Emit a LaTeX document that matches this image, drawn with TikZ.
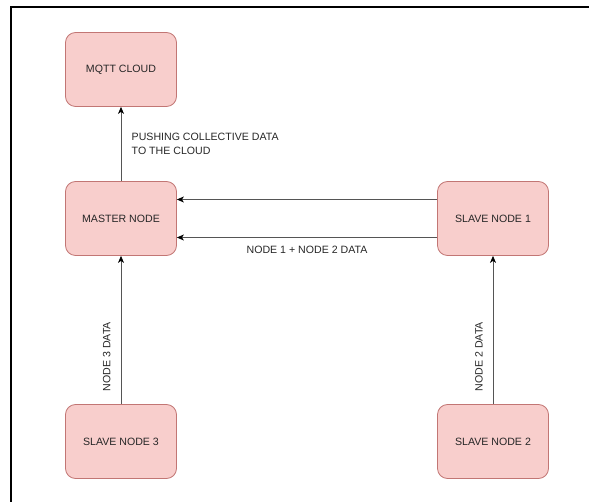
\documentclass[tikz,border=0pt]{standalone}
\usepackage{fontspec}
\setmainfont{Liberation Sans}
\usetikzlibrary{arrows.meta}
\definecolor{boxfill}{HTML}{F8CECC}
\definecolor{boxdraw}{HTML}{C27674}
\definecolor{txt}{HTML}{262626}
\definecolor{linec}{HTML}{555555}
\tikzset{
  box/.style={draw=boxdraw, fill=boxfill, rounded corners=10pt, minimum width=111pt,
    minimum height=74pt, inner sep=0pt, font=\fontsize{10.6}{13}\selectfont, text=txt, line width=0.8pt},
  arr/.style={draw=linec, line width=0.8pt, -{Stealth[length=7pt,width=6pt,inset=2pt,color=black]}},
  lbl/.style={font=\fontsize{10.6}{13.5}\selectfont, text=txt},
  frame/.style={draw=black, line width=2pt}
}
\begin{document}
\begin{tikzpicture}[x=1pt,y=-1pt]
\useasboundingbox (0,0) rectangle (589,502);
\draw[frame] (11,502) -- (11,7) -- (589,7);
\node[box] (mq) at (121,69.5) {MQTT CLOUD};
\node[box] (m)  at (121,218.5) {MASTER NODE};
\node[box] (s1) at (493,218.5) {SLAVE NODE 1};
\node[box] (s3) at (121,441.5) {SLAVE NODE 3};
\node[box] (s2) at (493,441.5) {SLAVE NODE 2};
\draw[arr] (m.north) -- (mq.south)
  node[lbl, midway, anchor=west, xshift=7pt, align=left] {PUSHING COLLECTIVE DATA\\TO THE CLOUD};
\draw[arr] ([yshift=19pt]s1.west) -- ([yshift=19pt]m.east);
\draw[arr] ([yshift=-19pt]s1.west) -- ([yshift=-19pt]m.east)
  node[lbl, midway, below, yshift=-5pt] {NODE 1 + NODE 2 DATA};
\draw[arr] (s3.north) -- (m.south)
  node[lbl, pos=0.32, rotate=90, anchor=south, inner ysep=10pt] {NODE 3 DATA};
\draw[arr] (s2.north) -- (s1.south)
  node[lbl, pos=0.32, rotate=90, anchor=south, inner ysep=10pt] {NODE 2 DATA};
\end{tikzpicture}
\end{document}
